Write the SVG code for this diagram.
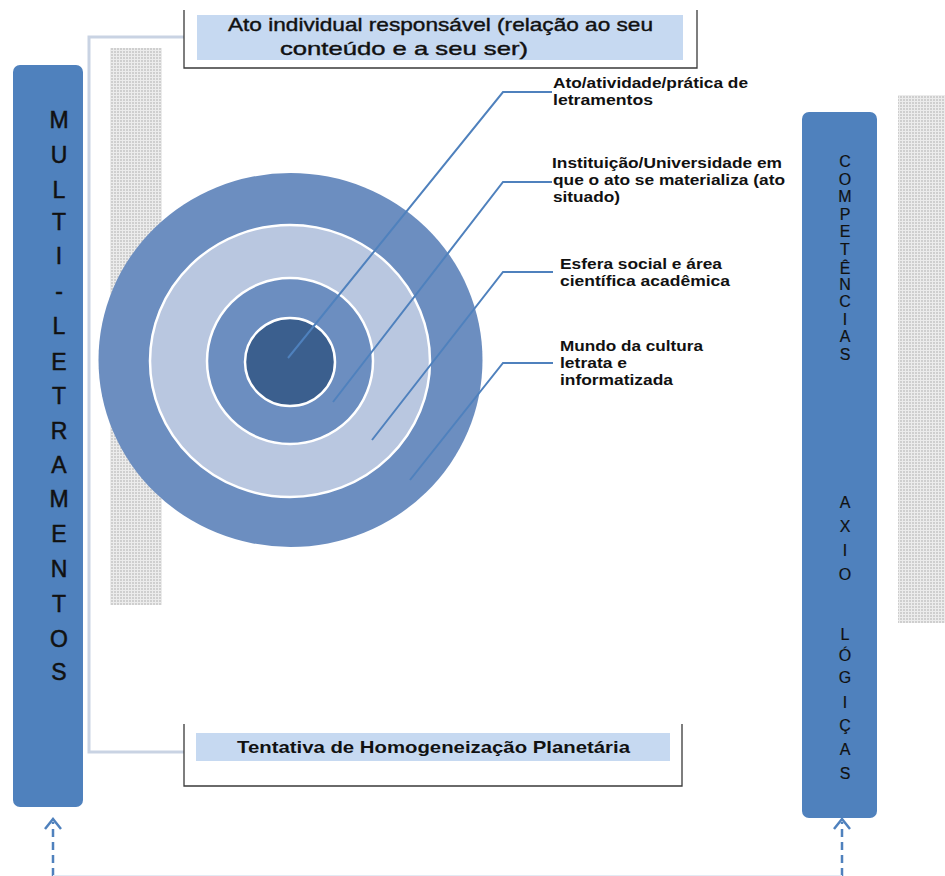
<svg xmlns="http://www.w3.org/2000/svg" width="945" height="876" viewBox="0 0 945 876">
<style>
.bar{fill:#4F81BD}
.vl{font-family:"Liberation Sans",Arial,sans-serif;font-size:23px;fill:#111;stroke:#111;stroke-width:0.5;text-anchor:middle}
.vr{font-family:"Liberation Sans",Arial,sans-serif;font-size:16px;fill:#111;stroke:#111;stroke-width:0.2;text-anchor:middle}
.lab{font-family:"Liberation Sans",Arial,sans-serif;font-size:15px;font-weight:bold;fill:#111}
.ttl{font-family:"Liberation Sans",Arial,sans-serif;font-size:19px;fill:#111;stroke:#111;stroke-width:0.4}
.ttlb{font-family:"Liberation Sans",Arial,sans-serif;font-size:17px;font-weight:bold;fill:#111}
.lead{fill:none;stroke:#4F81BD;stroke-width:2}
.frame{fill:#fff;stroke:#3a3a3a;stroke-width:1.3}
.band{fill:#C6D9F1}
.dash{fill:none;stroke:#4F81BD;stroke-width:2.5;stroke-dasharray:8 5}
.head{fill:none;stroke:#4F81BD;stroke-width:2.5}
</style>
<defs>
<pattern id="dots" width="3" height="3" patternUnits="userSpaceOnUse">
<rect width="3" height="3" fill="#ECECEC"/>
<rect width="2" height="2" fill="#CFCFCF"/>
</pattern>
</defs>
<rect width="945" height="876" fill="#fff"/>
<g id="strips">
<rect x="110" y="48" width="52" height="557" fill="url(#dots)"/>
<rect x="898" y="95" width="47" height="528" fill="url(#dots)"/>
</g>
<g id="connectors">
<polyline points="184,37 89,37 89,752 184,752" fill="none" stroke="#C9D3E3" stroke-width="3"/>
<line x1="53" y1="876" x2="53" y2="822" class="dash"/>
<polyline points="45,829 53,819 61,829" class="head"/>
<line x1="842" y1="876" x2="842" y2="822" class="dash"/>
<polyline points="834,829 842,819 850,829" class="head"/>
<line x1="53" y1="875.5" x2="842" y2="875.5" stroke="#E3EAF4" stroke-width="1"/>
</g>
<g id="multiletramentos">
<rect class="bar" x="13" y="65" width="70" height="742" rx="7"/>
<text class="vl" x="59" y="128">M</text>
<text class="vl" x="59" y="163">U</text>
<text class="vl" x="59" y="198">L</text>
<text class="vl" x="59" y="230">T</text>
<text class="vl" x="59" y="264">I</text>
<text class="vl" x="59" y="299">-</text>
<text class="vl" x="59" y="334">L</text>
<text class="vl" x="59" y="370">E</text>
<text class="vl" x="59" y="404">T</text>
<text class="vl" x="59" y="439">R</text>
<text class="vl" x="59" y="473">A</text>
<text class="vl" x="59" y="507">M</text>
<text class="vl" x="59" y="542">E</text>
<text class="vl" x="59" y="577">N</text>
<text class="vl" x="59" y="612">T</text>
<text class="vl" x="59" y="647">O</text>
<text class="vl" x="59" y="680">S</text>
</g>
<g id="competencias">
<rect class="bar" x="802" y="112" width="75" height="706" rx="7"/>
<text class="vr" x="845" y="167">C</text>
<text class="vr" x="845" y="184.5">O</text>
<text class="vr" x="845" y="202">M</text>
<text class="vr" x="845" y="219.5">P</text>
<text class="vr" x="845" y="237">E</text>
<text class="vr" x="845" y="254.5">T</text>
<text class="vr" x="845" y="274">Ê</text>
<text class="vr" x="845" y="290">N</text>
<text class="vr" x="845" y="307">C</text>
<text class="vr" x="845" y="324.5">I</text>
<text class="vr" x="845" y="342">A</text>
<text class="vr" x="845" y="359.5">S</text>
<text class="vr" x="845" y="508">A</text>
<text class="vr" x="845" y="532">X</text>
<text class="vr" x="845" y="556">I</text>
<text class="vr" x="845" y="580">O</text>
<text class="vr" x="845" y="640">L</text>
<text class="vr" x="845" y="661">Ó</text>
<text class="vr" x="845" y="683">G</text>
<text class="vr" x="845" y="708">I</text>
<text class="vr" x="845" y="731">Ç</text>
<text class="vr" x="845" y="755">A</text>
<text class="vr" x="845" y="779">S</text>
</g>
<g id="top-box">
<path class="frame" d="M184,10 V68 H697 V10"/>
<rect class="band" x="197" y="15" width="486" height="45"/>
<text class="ttl" x="228" y="31" textLength="425" lengthAdjust="spacingAndGlyphs">Ato individual responsável (relação ao seu</text>
<text class="ttl" x="280" y="55" textLength="248" lengthAdjust="spacingAndGlyphs">conteúdo e a seu ser)</text>
</g>
<g id="bottom-box">
<path class="frame" d="M184,724 V786 H682 V724"/>
<rect class="band" x="196" y="733" width="474" height="28"/>
<text class="ttlb" x="237" y="753" textLength="393" lengthAdjust="spacingAndGlyphs">Tentativa de Homogeneização Planetária</text>
</g>
<g id="circles">
<ellipse cx="290.5" cy="360" rx="192" ry="187" fill="#6C8EC0"/>
<ellipse cx="290" cy="361" rx="140" ry="136" fill="#B9C7E0" stroke="#fff" stroke-width="2.5"/>
<ellipse cx="290" cy="361" rx="83" ry="83" fill="#6C8EC0" stroke="#fff" stroke-width="2.5"/>
<ellipse cx="290" cy="362" rx="45" ry="44" fill="#3B5F8E" stroke="#fff" stroke-width="2.5"/>
</g>
<g id="leaders">
<polyline class="lead" points="288,358 503,92 552,92"/>
<polyline class="lead" points="333,402 503,182 552,182"/>
<polyline class="lead" points="372,440 503,272 553,272" stroke-width="3"/>
<polyline class="lead" points="410,480 503,363 553,363"/>
</g>
<g id="labels">
<text class="lab" x="553" y="88" textLength="195" lengthAdjust="spacingAndGlyphs">Ato/atividade/prática de</text>
<text class="lab" x="553" y="105" textLength="100" lengthAdjust="spacingAndGlyphs">letramentos</text>
<text class="lab" x="552" y="168" textLength="230" lengthAdjust="spacingAndGlyphs">Instituição/Universidade em</text>
<text class="lab" x="553" y="185" textLength="232" lengthAdjust="spacingAndGlyphs">que o ato se materializa (ato</text>
<text class="lab" x="553" y="202" textLength="67" lengthAdjust="spacingAndGlyphs">situado)</text>
<text class="lab" x="560" y="269" textLength="162" lengthAdjust="spacingAndGlyphs">Esfera social e área</text>
<text class="lab" x="560" y="286" textLength="170" lengthAdjust="spacingAndGlyphs">científica acadêmica</text>
<text class="lab" x="560" y="351" textLength="143" lengthAdjust="spacingAndGlyphs">Mundo da cultura</text>
<text class="lab" x="560" y="368" textLength="67" lengthAdjust="spacingAndGlyphs">letrata e</text>
<text class="lab" x="560" y="385" textLength="113" lengthAdjust="spacingAndGlyphs">informatizada</text>
</g>
</svg>
